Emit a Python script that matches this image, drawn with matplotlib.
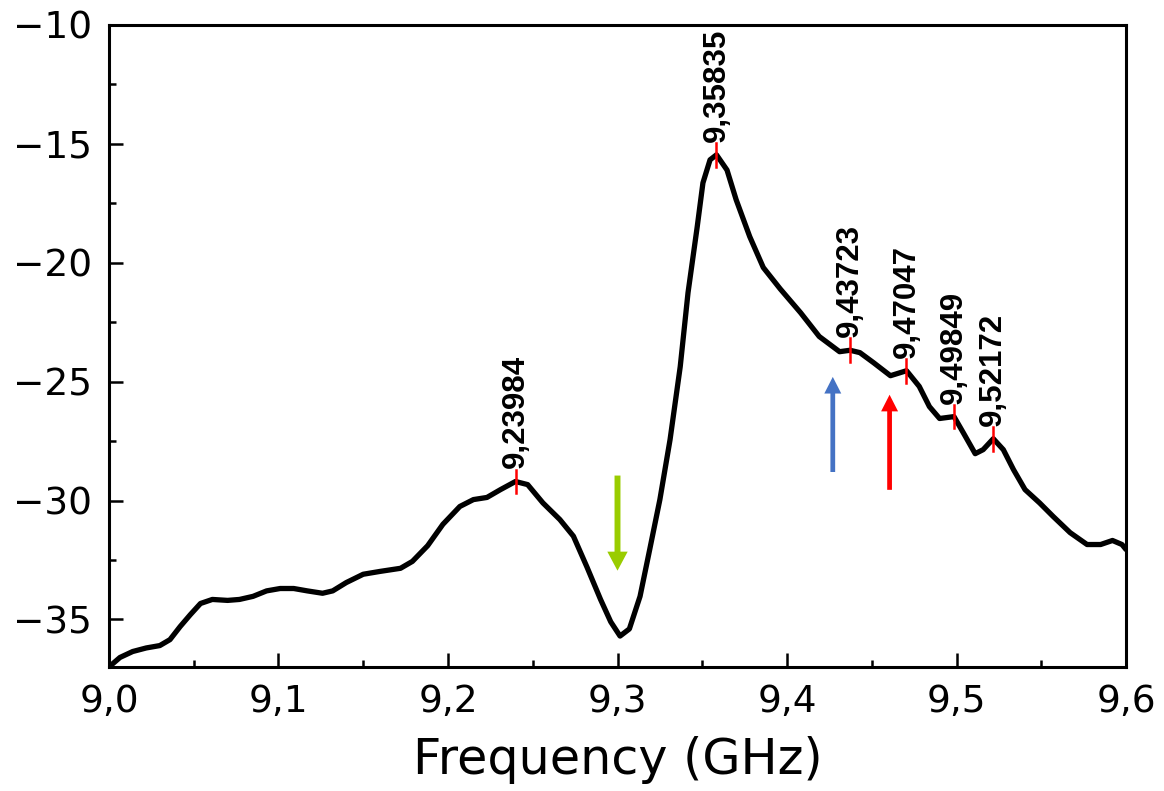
import matplotlib
matplotlib.use("Agg")
import matplotlib.pyplot as plt
from matplotlib.ticker import MultipleLocator, FuncFormatter
import numpy as np

freq = [9.000, 9.0065, 9.014, 9.022, 9.030, 9.036, 9.042, 9.048, 9.054, 9.061,
        9.070, 9.077, 9.085, 9.093, 9.101, 9.109, 9.117, 9.126, 9.132, 9.140,
        9.150, 9.160, 9.172, 9.179, 9.188, 9.197, 9.207, 9.215, 9.223, 9.231,
        9.2398, 9.247, 9.256, 9.266, 9.274, 9.282, 9.290, 9.296, 9.3015, 9.307,
        9.3133, 9.319, 9.325, 9.331, 9.337, 9.3416, 9.347, 9.3504, 9.3546, 9.3584,
        9.3646, 9.370, 9.378, 9.386, 9.396, 9.408, 9.419, 9.431, 9.4372, 9.443,
        9.451, 9.461, 9.4705, 9.478, 9.484, 9.490, 9.4985, 9.504, 9.511, 9.5157,
        9.5217, 9.5276, 9.5336, 9.5404, 9.549, 9.557, 9.567, 9.577, 9.585, 9.592,
        9.5976, 9.600]
s11 = [-37.0, -36.6, -36.35, -36.2, -36.1, -35.85, -35.3, -34.8, -34.33, -34.16,
       -34.2, -34.16, -34.03, -33.8, -33.7, -33.7, -33.8, -33.9, -33.8, -33.45,
       -33.1, -32.98, -32.85, -32.56, -31.9, -31.0, -30.25, -29.96, -29.87, -29.54,
       -29.2, -29.33, -30.1, -30.8, -31.5, -32.8, -34.16, -35.1, -35.7, -35.4,
       -34.03, -32.06, -29.96, -27.44, -24.37, -21.26, -18.5, -16.64, -15.67, -15.46,
       -16.1, -17.35, -18.9, -20.2, -21.1, -22.1, -23.1, -23.74, -23.68, -23.78,
       -24.2, -24.75, -24.54, -25.2, -26.05, -26.55, -26.47, -27.15, -28.03, -27.86,
       -27.4, -27.86, -28.7, -29.54, -30.1, -30.67, -31.35, -31.85, -31.85, -31.68,
       -31.85, -32.06]

# marked resonances
peak_f = [9.23984, 9.35835, 9.43723, 9.47047, 9.49849, 9.52172]
peak_lbl = ["9,23984", "9,35835", "9,43723", "9,47047", "9,49849", "9,52172"]

fig = plt.figure(figsize=(11.64, 7.91), dpi=100)
ax = fig.add_axes([0.0936, 0.1568, 0.8738, 0.8116])

ax.plot(freq, s11, color="black", lw=3.8, solid_joinstyle="round",
        solid_capstyle="round", zorder=3)

peak_y = np.interp(peak_f, freq, s11)
for f, y, t in zip(peak_f, peak_y, peak_lbl):
    ax.plot([f, f], [y - 0.5, y + 0.5], color="red", lw=1.8, zorder=4)
    ax.text(f, y + 0.55, t, rotation=90, ha="center", va="bottom",
            fontsize=22.5, fontweight="bold", family="Liberation Sans")

# arrows
ax.arrow(9.300, -28.95, 0, -4.0, width=0.0035, head_width=0.012,
         head_length=0.8, length_includes_head=True, color="#99cc00", lw=0)
ax.arrow(9.427, -28.8, 0, 4.0, width=0.0028, head_width=0.010,
         head_length=0.7, length_includes_head=True, color="#4472c4", lw=0)
ax.arrow(9.4605, -29.55, 0, 4.0, width=0.0028, head_width=0.010,
         head_length=0.7, length_includes_head=True, color="#ff0000", lw=0)

ax.set_xlim(9.0, 9.6)
ax.set_ylim(-37, -10)
ax.xaxis.set_major_locator(MultipleLocator(0.1))
ax.xaxis.set_minor_locator(MultipleLocator(0.05))
ax.yaxis.set_major_locator(MultipleLocator(5))
ax.yaxis.set_minor_locator(MultipleLocator(2.5))
ax.xaxis.set_major_formatter(FuncFormatter(lambda v, p: f"{v:.1f}".replace(".", ",")))
ax.yaxis.set_major_formatter(FuncFormatter(lambda v, p: f"{v:.0f}".replace("-", "\u2212")))

ax.tick_params(which="both", direction="in", top=False, right=False, width=1.8)
ax.tick_params(which="major", length=10, labelsize=27, pad=12)
ax.tick_params(which="minor", length=5)
for sp in ax.spines.values():
    sp.set_linewidth(2.2)

ax.set_xlabel("Frequency (GHz)", fontsize=35.5, labelpad=12)

fig.savefig("out.png", dpi=100)
